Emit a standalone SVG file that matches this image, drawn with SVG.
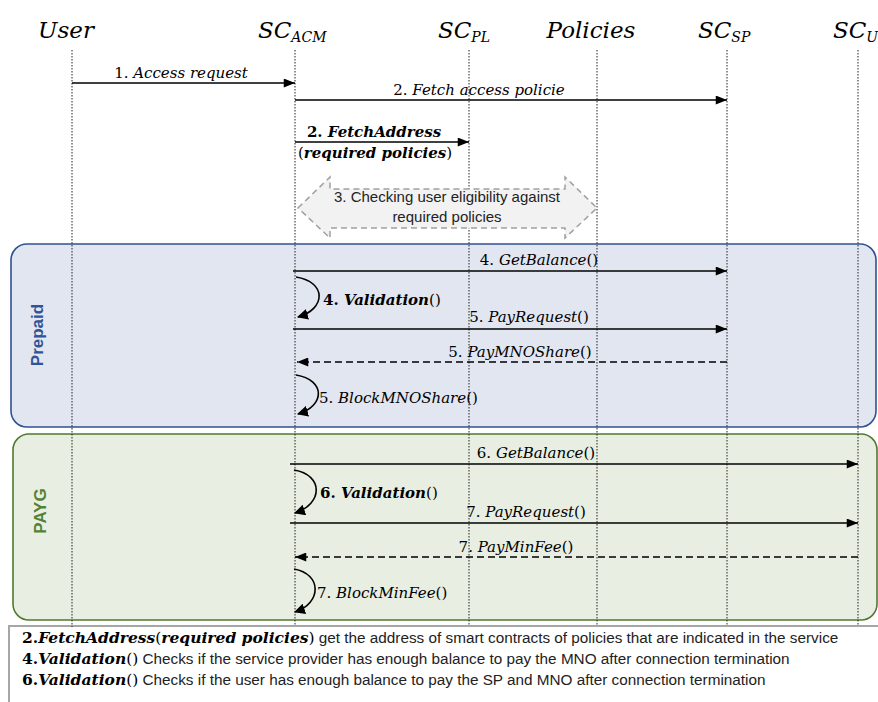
<svg xmlns="http://www.w3.org/2000/svg" width="878" height="702" viewBox="0 0 878 702">
<style>
.hdr{font-family:"DejaVu Serif",serif;font-style:italic;font-size:23px;fill:#000}
.sub{font-size:14px}
.lbl{font-family:"DejaVu Serif",serif;font-size:15px;fill:#000}
.it{font-style:italic}
.bi{font-style:italic;font-weight:bold}
.b{font-weight:bold}
.life{stroke:#222;stroke-width:1;stroke-dasharray:1.5,1.5;fill:none}
.msg{stroke:#000;stroke-width:1.6;fill:none}
.ret{stroke:#000;stroke-width:1.6;fill:none;stroke-dasharray:7,4}
.note{font-family:"Liberation Sans",Arial,sans-serif;font-size:15.3px;fill:#222}
.math{font-family:"DejaVu Serif",serif;font-size:15.5px;fill:#000}
.side{font-family:"Liberation Sans",Arial,sans-serif;font-weight:bold;font-size:17px}
.blk{font-family:"Liberation Sans",Arial,sans-serif;font-size:15px;fill:#222}
</style>
<defs>
<marker id="ah" viewBox="0 0 10 8" refX="10" refY="4" markerWidth="12" markerHeight="9" markerUnits="userSpaceOnUse" orient="auto"><path d="M0,0 L10,4 L0,8 z" fill="#000"/></marker>
<marker id="ahs" viewBox="0 0 10 10" refX="9" refY="5" markerWidth="11" markerHeight="11" markerUnits="userSpaceOnUse" orient="auto"><path d="M0,0 L10,5 L0,10 z" fill="#000"/></marker>
</defs>
<rect width="878" height="702" fill="#fff"/>

<g id="prepaid-frame">
<rect x="11" y="244" width="865" height="183" rx="16" ry="16" fill="#e2e6f0" stroke="#2f528f" stroke-width="1.6"/>
<text class="side" fill="#2f5597" transform="translate(43,335) rotate(-90)" text-anchor="middle">Prepaid</text>
</g>
<g id="payg-frame">
<rect x="13" y="434" width="864" height="186" rx="16" ry="16" fill="#e8eee2" stroke="#4f7a2f" stroke-width="1.6"/>
<text class="side" fill="#548235" transform="translate(46,511) rotate(-90)" text-anchor="middle">PAYG</text>
</g>

<g id="footer">
<rect x="9" y="626" width="880" height="90" fill="#fff" stroke="#a6a6a6" stroke-width="2"/>
<text x="22" y="643"><tspan class="math b">2.</tspan><tspan class="math bi">FetchAddress</tspan><tspan class="math">(</tspan><tspan class="math bi">required policies</tspan><tspan class="math">)</tspan><tspan class="note"> get the address of smart contracts of policies that are indicated in the service</tspan></text>
<text x="22" y="664"><tspan class="math b">4.</tspan><tspan class="math bi">Validation</tspan><tspan class="math">()</tspan><tspan class="note"> Checks if the service provider has enough balance to pay the MNO after connection termination</tspan></text>
<text x="22" y="685"><tspan class="math b">6.</tspan><tspan class="math bi">Validation</tspan><tspan class="math">()</tspan><tspan class="note"> Checks if the user has enough balance to pay the SP and MNO after connection termination</tspan></text>
</g>

<g id="lifelines">
<g id="user"><text class="hdr" x="66" y="38" text-anchor="middle">User</text><line class="life" x1="72" y1="50" x2="72" y2="627"/></g>
<g id="sc-acm"><text class="hdr" x="258" y="38">SC<tspan class="sub" dy="4">ACM</tspan></text><line class="life" x1="295" y1="50" x2="295" y2="626"/></g>
<g id="sc-pl"><text class="hdr" x="438" y="38">SC<tspan class="sub" dy="4">PL</tspan></text><line class="life" x1="469" y1="50" x2="469" y2="626"/></g>
<g id="policies"><text class="hdr" x="591" y="38" text-anchor="middle">Policies</text><line class="life" x1="597" y1="50" x2="597" y2="626"/></g>
<g id="sc-sp"><text class="hdr" x="698" y="38">SC<tspan class="sub" dy="4">SP</tspan></text><line class="life" x1="727" y1="50" x2="727" y2="626"/></g>
<g id="sc-u"><text class="hdr" x="833" y="38">SC<tspan class="sub" dy="4">U</tspan></text><line class="life" x1="858" y1="50" x2="858" y2="626"/></g>
</g>

<g id="step3">
<polygon points="298,208 330,177 330,189 565,189 565,177 597,208 565,238 565,228 330,228 330,238" fill="#f2f2f2" stroke="#a0a0a0" stroke-width="1.5" stroke-dasharray="6,4"/>
<text class="blk" x="447" y="202" text-anchor="middle">3. Checking user eligibility against</text>
<text class="blk" x="447" y="222" text-anchor="middle">required policies</text>
</g>

<g id="connectors">
<line class="msg" x1="72" y1="83" x2="295" y2="83" marker-end="url(#ah)"/>
<text class="lbl" x="181" y="78" text-anchor="middle">1.<tspan class="it"> Access request</tspan></text>

<line class="msg" x1="295" y1="100" x2="727" y2="100" marker-end="url(#ah)"/>
<text class="lbl" x="479" y="95" text-anchor="middle">2.<tspan class="it"> Fetch access policie</tspan></text>

<line class="msg" x1="295" y1="142" x2="469" y2="142" marker-end="url(#ah)"/>
<text class="lbl" x="374" y="137" text-anchor="middle"><tspan class="b">2.</tspan><tspan class="bi"> FetchAddress</tspan></text>
<text class="lbl" x="375" y="158" text-anchor="middle">(<tspan class="bi">required policies</tspan>)</text>

<line class="msg" x1="293" y1="271" x2="727" y2="271" marker-end="url(#ah)"/>
<text class="lbl" x="539" y="265" text-anchor="middle">4.<tspan class="it"> GetBalance</tspan>()</text>
<path class="msg" d="M296,277 C327,282 326,309 298,317" marker-end="url(#ahs)"/>
<text class="lbl" x="323" y="305"><tspan class="b">4.</tspan><tspan class="bi"> Validation</tspan>()</text>
<line class="msg" x1="293" y1="329" x2="727" y2="329" marker-end="url(#ah)"/>
<text class="lbl" x="529" y="322" text-anchor="middle">5.<tspan class="it"> PayRequest</tspan>()</text>
<line class="ret" x1="727" y1="362" x2="297" y2="362" marker-end="url(#ah)"/>
<text class="lbl" x="520" y="357" text-anchor="middle">5.<tspan class="it"> PayMNOShare</tspan>()</text>
<path class="msg" d="M296,375 C326,380 325,406 298,414" marker-end="url(#ahs)"/>
<text class="lbl" x="319" y="403">5.<tspan class="it"> BlockMNOShare</tspan>()</text>

<line class="msg" x1="290" y1="464" x2="858" y2="464" marker-end="url(#ah)"/>
<text class="lbl" x="536" y="458" text-anchor="middle">6.<tspan class="it"> GetBalance</tspan>()</text>
<path class="msg" d="M294,470 C324,475 323,504 295,513" marker-end="url(#ahs)"/>
<text class="lbl" x="320" y="498"><tspan class="b">6.</tspan><tspan class="bi"> Validation</tspan>()</text>
<line class="msg" x1="290" y1="523" x2="858" y2="523" marker-end="url(#ah)"/>
<text class="lbl" x="526" y="517" text-anchor="middle">7.<tspan class="it"> PayRequest</tspan>()</text>
<line class="ret" x1="858" y1="557" x2="295" y2="557" marker-end="url(#ah)"/>
<text class="lbl" x="516" y="552" text-anchor="middle">7.<tspan class="it"> PayMinFee</tspan>()</text>
<path class="msg" d="M294,569 C322,574 322,603 295,612" marker-end="url(#ahs)"/>
<text class="lbl" x="317" y="598">7.<tspan class="it"> BlockMinFee</tspan>()</text>
</g>
</svg>
